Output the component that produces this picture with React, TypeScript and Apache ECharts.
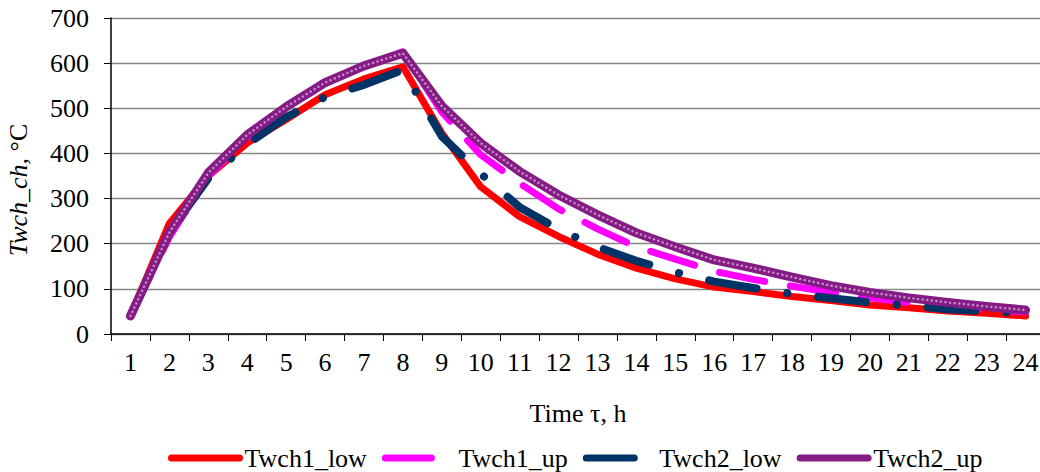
import React, { useEffect, useRef } from "react";
import * as echarts from "echarts";

const hours = ["1","2","3","4","5","6","7","8","9","10","11","12","13","14","15","16","17","18","19","20","21","22","23","24"];
const twch1Low = [40, 245, 350, 423, 475, 530, 565, 592, 445, 326, 260, 216, 177, 146, 122, 104, 94, 83, 74, 64, 58, 51, 46, 40];
const twch1Up = [40, 215, 350, 435, 500, 555, 595, 625, 492, 397, 334, 277, 233, 193, 166, 139, 121, 106, 92, 80, 70, 61, 54, 49];
const twch2Low = [40, 225, 345, 420, 480, 525, 552, 585, 438, 355, 281, 232, 193, 162, 137, 116, 102, 89, 79, 70, 63, 55, 50, 46];
const twch2Up = [40, 225, 357, 441, 503, 557, 594, 622, 505, 423, 360, 308, 264, 224, 193, 164, 146, 126, 107, 92, 80, 70, 61, 53];
const seriesNames = ["Twch1_low", "Twch1_up", "Twch2_low", "Twch2_up"];

const FONT = "'Liberation Serif', 'Times New Roman', serif";

export default function App() {
  const ref = useRef<HTMLDivElement>(null);
  useEffect(() => {
    if (!ref.current) return;
    const chart = echarts.init(ref.current, null, { renderer: "svg" });
    const lineBase = { type: "line", showSymbol: false, symbol: "none", smooth: false };
    chart.setOption({
      animation: false,
      backgroundColor: "#ffffff",
      textStyle: { fontFamily: FONT },
      grid: { left: 111, top: 18, width: 934, height: 316, outerBoundsMode: "none", containLabel: false },
      legend: {
        data: seriesNames,
        top: 445,
        left: 168,
        padding: 0,
        itemWidth: 68,
        itemHeight: 16,
        itemGap: 15,
        itemStyle: { opacity: 0, borderWidth: 0 },
        lineStyle: { width: 7, cap: "round" },
        textStyle: { fontFamily: FONT, fontSize: 26, color: "#000" },
      },
      xAxis: {
        type: "category",
        data: hours,
        boundaryGap: true,
        name: "Time τ, h",
        nameLocation: "middle",
        nameGap: 66,
        nameTextStyle: { fontFamily: FONT, fontSize: 26, color: "#000" },
        axisLine: { lineStyle: { color: "#000", width: 1.5 } },
        axisTick: { show: true, alignWithLabel: false, length: 7, lineStyle: { color: "#000" } },
        axisLabel: { fontFamily: FONT, fontSize: 26, color: "#000", margin: 15 },
        splitLine: { show: false },
      },
      yAxis: {
        type: "value",
        min: 0,
        max: 700,
        interval: 100,
        name: "{i|Twch_ch,}{n| °C}",
        nameLocation: "middle",
        nameGap: 80,
        nameRotate: 90,
        nameTextStyle: {
          color: "#000",
          padding: [0, 28, 0, 0],
          rich: {
            i: { fontFamily: FONT, fontSize: 26, fontStyle: "italic", color: "#000" },
            n: { fontFamily: FONT, fontSize: 26, color: "#000" },
          },
        },
        axisLine: { show: true, lineStyle: { color: "#000", width: 1.5 } },
        axisTick: { show: true, length: 7, lineStyle: { color: "#000" } },
        axisLabel: { fontFamily: FONT, fontSize: 26, color: "#000", margin: 22 },
        splitLine: { show: true, lineStyle: { color: "#868686", width: 1.3 } },
      },
      series: [
        {
          ...lineBase,
          name: "Twch1_low",
          data: twch1Low,
          color: "#ff0000",
          lineStyle: { color: "#ff0000", width: 7, cap: "round", join: "round" },
          z: 2,
        },
        {
          ...lineBase,
          name: "Twch1_up",
          data: twch1Up,
          color: "#ff00ff",
          lineStyle: { color: "#ff00ff", width: 7, type: [46, 26], cap: "round", join: "round" },
          z: 3,
        },
        {
          ...lineBase,
          name: "Twch2_low",
          data: twch2Low,
          color: "#003366",
          lineStyle: { color: "#003366", width: 8, type: [48, 31, 0.1, 31], cap: "round", join: "round" },
          z: 4,
        },
        {
          ...lineBase,
          name: "Twch2_up",
          data: twch2Up,
          color: "#7f1f7f",
          lineStyle: { color: "#851c85", width: 9, cap: "round", join: "round" },
          z: 5,
        },
        {
          ...lineBase,
          name: "Twch2_up_dots",
          data: twch2Up,
          color: "#c58ac5",
          lineStyle: { color: "#c58ac5", width: 2.5, type: [0.1, 4.5], cap: "round", join: "round" },
          z: 6,
          silent: true,
        },
      ],
    });
    return () => chart.dispose();
  }, []);
  return (
    <div
      ref={ref}
      style={{ position: "absolute", left: 0, top: 0, width: 1040, height: 472 }}
    />
  );
}
